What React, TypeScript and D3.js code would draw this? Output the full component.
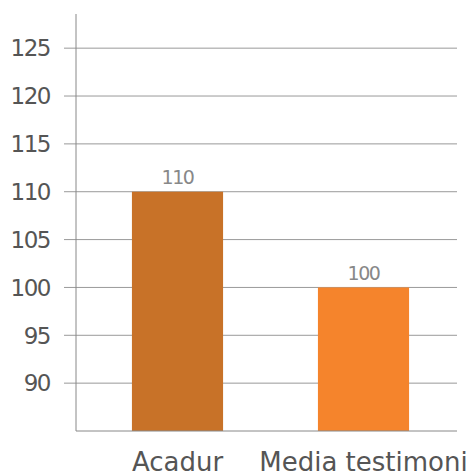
import React, { useEffect, useRef } from 'react';
import * as d3 from 'd3';

const categories = ['Acadur', 'Media testimoni'];
const values = [110, 100];
const barColors = ['#c87228', '#f5842c'];
const yTicks = [90, 95, 100, 105, 110, 115, 120, 125];

const App: React.FC = () => {
  const ref = useRef<SVGSVGElement | null>(null);

  useEffect(() => {
    if (!ref.current) return;
    const width = 475;
    const height = 473;
    const svg = d3.select(ref.current);
    svg.selectAll('*').remove();
    svg.attr('width', width).attr('height', height);

    const font = "'DejaVu Sans', sans-serif";
    const left = 76;
    const right = 457;
    const top = 14;
    const bottom = 431;

    const x = d3.scaleBand<string>()
      .domain(categories)
      .range([84.5, 456.5])
      .paddingInner(0.51)
      .paddingOuter(0.255);

    const y = d3.scaleLinear()
      .domain([85, 128.57])
      .range([bottom, top]);

    // gridlines
    svg.append('g')
      .selectAll('line')
      .data(yTicks)
      .enter().append('line')
      .attr('x1', 64)
      .attr('x2', right)
      .attr('y1', d => y(d))
      .attr('y2', d => y(d))
      .attr('stroke', '#999')
      .attr('stroke-width', 1);

    // y labels
    svg.append('g')
      .selectAll('text')
      .data(yTicks)
      .enter().append('text')
      .attr('x', 50)
      .attr('y', d => y(d))
      .attr('dy', '0.36em')
      .attr('text-anchor', 'end')
      .attr('font-family', font)
      .attr('font-size', 23)
      .attr('letter-spacing', -1.5)
      .attr('fill', '#555')
      .text(d => d);

    // bars
    svg.append('g')
      .selectAll('rect')
      .data(values)
      .enter().append('rect')
      .attr('x', (d, i) => x(categories[i]) as number)
      .attr('width', x.bandwidth())
      .attr('y', d => y(d))
      .attr('height', d => bottom - y(d))
      .attr('fill', (d, i) => barColors[i]);

    // value labels
    svg.append('g')
      .selectAll('text')
      .data(values)
      .enter().append('text')
      .attr('x', (d, i) => (x(categories[i]) as number) + x.bandwidth() / 2)
      .attr('y', d => y(d) - 7.5)
      .attr('text-anchor', 'middle')
      .attr('font-family', font)
      .attr('font-size', 19)
      .attr('letter-spacing', -1.5)
      .attr('fill', '#888')
      .text(d => d);

    // axes lines
    svg.append('line')
      .attr('x1', left).attr('x2', left)
      .attr('y1', top).attr('y2', bottom)
      .attr('stroke', '#888');
    svg.append('line')
      .attr('x1', left).attr('x2', right)
      .attr('y1', bottom).attr('y2', bottom)
      .attr('stroke', '#888');

    // category labels
    svg.append('g')
      .selectAll('text')
      .data(categories)
      .enter().append('text')
      .attr('x', d => (x(d) as number) + x.bandwidth() / 2)
      .attr('y', 471)
      .attr('text-anchor', 'middle')
      .attr('font-family', font)
      .attr('font-size', 26)
      .attr('fill', '#555')
      .text(d => d);
  }, []);

  return <svg ref={ref} style={{ position: 'absolute', left: 0, top: 0 }}></svg>;
};

export default App;
